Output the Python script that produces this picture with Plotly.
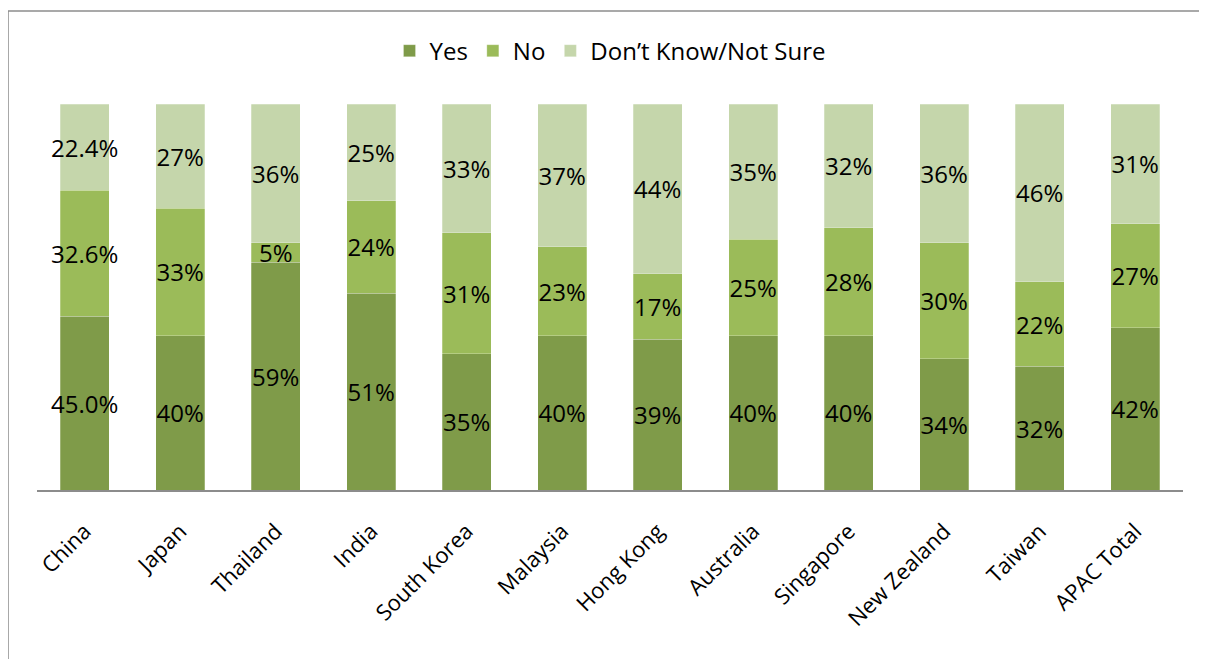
import plotly.graph_objects as go

countries = ["China", "Japan", "Thailand", "India", "South Korea", "Malaysia",
             "Hong Kong", "Australia", "Singapore", "New Zealand", "Taiwan", "APAC Total"]
yes_vals = [45.0, 40, 59, 51, 35, 40, 39, 40, 40, 34, 32, 42]
no_vals = [32.6, 33, 5, 24, 31, 23, 17, 25, 28, 30, 22, 27]
dk_vals = [22.4, 27, 36, 25, 33, 37, 44, 35, 32, 36, 46, 31]
decimals = [1, 0, 0, 0, 0, 0, 0, 0, 0, 0, 0, 0]

series = [
    ("Yes", yes_vals, "#7F9B49"),
    ("No", no_vals, "#9BBB59"),
    ("Don\u2019t Know/Not Sure", dk_vals, "#C5D6AB"),
]

FONT = "Open Sans"

fig = go.Figure()
for name, vals, color in series:
    labels = [f"{v:.{d}f}%" for v, d in zip(vals, decimals)]
    fig.add_trace(go.Bar(
        x=countries, y=vals, name=name,
        marker=dict(color=color, line=dict(color="rgba(255,255,255,0.5)", width=0.5)),
        text=labels, textposition="inside", insidetextanchor="middle",
        textangle=0, constraintext="none",
        textfont=dict(family=FONT, size=24, color="black"),
        hoverinfo="skip",
    ))

frame = dict(color="#8C8C8C", width=1.5)
fig.update_layout(
    barmode="stack", barnorm="percent", bargap=0.49,
    width=1207, height=659,
    margin=dict(l=29, r=32, t=96, b=177),
    paper_bgcolor="white", plot_bgcolor="white",
    font=dict(family=FONT, size=20, color="black"),
    showlegend=True,
    legend=dict(orientation="h", x=0.5, xanchor="center", y=1.137, yanchor="middle",
                font=dict(family=FONT, size=24, color="black"), traceorder="normal",
                itemwidth=30),
    xaxis=dict(showline=True, linecolor="#8C8C8C", linewidth=1.5, ticks="",
               tickangle=-45, tickfont=dict(family=FONT, size=22, color="black"),
               ticklabelstandoff=18, showgrid=False),
    yaxis=dict(range=[0, 100], visible=False, showgrid=False),
    shapes=[
        dict(type="line", xref="paper", yref="paper", x0=-0.0253, x1=-0.0253,
             y0=-0.6, y1=1.241, line=frame, layer="below"),
        dict(type="line", xref="paper", yref="paper", x0=-0.0253, x1=1.2,
             y0=1.241, y1=1.241, line=frame, layer="below"),
    ],
)

fig.write_html("out.html")
